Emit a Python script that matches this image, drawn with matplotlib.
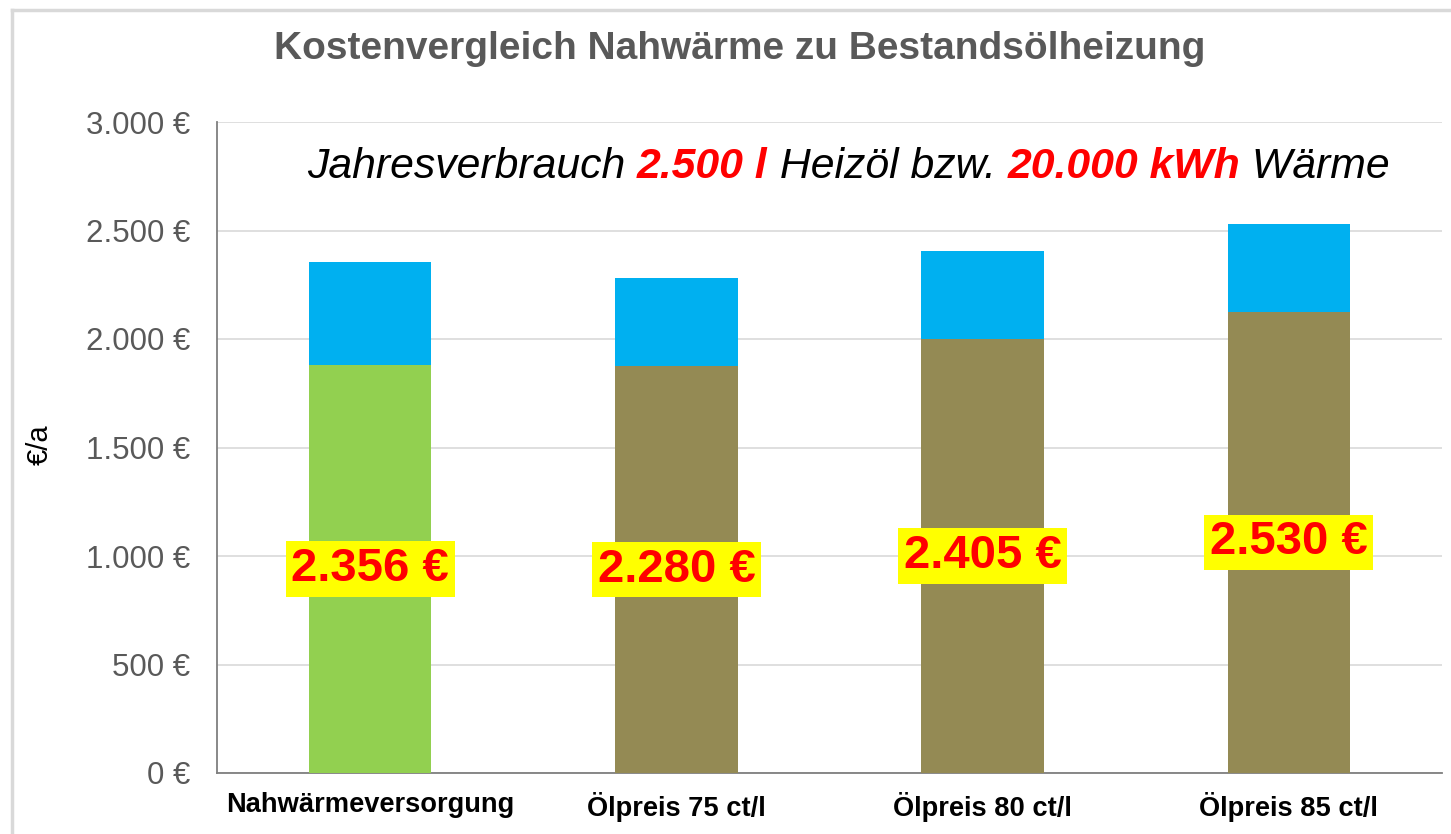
import matplotlib
matplotlib.use("Agg")
import matplotlib.pyplot as plt
from matplotlib.lines import Line2D

# daten
kategorien = ["Nahwärmeversorgung", "Ölpreis 75 ct/l", "Ölpreis 80 ct/l", "Ölpreis 85 ct/l"]
grundkosten = [1880, 1875, 2000, 2125]
zusatzkosten = [476, 405, 405, 405]
gesamt_labels = ["2.356 €", "2.280 €", "2.405 €", "2.530 €"]
y_ticks = [0, 500, 1000, 1500, 2000, 2500, 3000]
y_ticklabels = ["0 €", "500 €", "1.000 €", "1.500 €", "2.000 €", "2.500 €", "3.000 €"]

gruen = "#92D050"
oliv = "#948A54"
blau = "#00B0F0"
grau = "#595959"

plt.rcParams["font.family"] = ["Liberation Sans", "DejaVu Sans"]

fig = plt.figure(figsize=(14.51, 8.34), dpi=100)
ax = fig.add_axes([217 / 1451, 1 - 773 / 834, (1442 - 217) / 1451, (773 - 122) / 834])

x = list(range(len(kategorien)))
farben_unten = [gruen, oliv, oliv, oliv]
ax.bar(x, grundkosten, width=0.4, color=farben_unten, zorder=3)
ax.bar(x, zusatzkosten, width=0.4, bottom=grundkosten, color=blau, zorder=3)

# beschriftung mitten im unteren segment
for i in x:
    ax.text(i, grundkosten[i] / 2, gesamt_labels[i], ha="center", va="center",
            fontsize=34, fontweight="bold", color="#FF0000", zorder=5,
            bbox=dict(boxstyle="square,pad=0.12", facecolor="#FFFF00", edgecolor="none"))

ax.set_xlim(-0.5, 3.5)
ax.set_ylim(0, 3000)
ax.set_yticks(y_ticks)
ax.set_yticklabels(y_ticklabels, fontsize=22.5, color=grau)
ax.set_xticks(x)
ax.set_xticklabels(kategorien, fontsize=19.6, fontweight="bold", color="black")
ax.tick_params(axis="y", length=0, pad=19.5)
ax.tick_params(axis="x", length=0, pad=14)
ax.grid(axis="y", color="#D9D9D9", linewidth=1.2, zorder=0)
ax.spines["top"].set_visible(False)
ax.spines["right"].set_visible(False)
ax.spines["left"].set_color("#7F7F7F")
ax.spines["bottom"].set_color("#7F7F7F")
ax.spines["left"].set_linewidth(1.3)
ax.spines["bottom"].set_linewidth(1.3)

fig.text(40 / 1451, 1 - 445 / 834, "€/a", rotation=90, ha="center", va="center",
         fontsize=21, color="black")

fig.text(740 / 1451, 1 - 49 / 834, "Kostenvergleich Nahwärme zu Bestandsölheizung",
         ha="center", va="center", fontsize=28, fontweight="bold", color=grau)

# zeile mit gemischten farben
teile = [("Jahresverbrauch ", "black", "normal"),
         ("2.500 l", "#FF0000", "bold"),
         (" Heizöl bzw. ", "black", "normal"),
         ("20.000 kWh", "#FF0000", "bold"),
         (" Wärme", "black", "normal")]
t = fig.text(307 / 1451, 1 - 178 / 834, teile[0][0], color=teile[0][1], fontweight=teile[0][2],
             fontsize=30.8, fontstyle="italic", ha="left", va="baseline")
for s, c, w in teile[1:]:
    t = ax.annotate(s, xycoords=t, xy=(1, 0), va="bottom", ha="left", color=c,
                    fontweight=w, fontsize=30.8, fontstyle="italic", annotation_clip=False)

# rahmen
fig.add_artist(Line2D([12 / 1451, 12 / 1451], [0, 1 - 10 / 834], color="#D9D9D9", linewidth=2.5,
                      transform=fig.transFigure))
fig.add_artist(Line2D([12 / 1451, 1], [1 - 10 / 834, 1 - 10 / 834], color="#D9D9D9", linewidth=2.5,
                      transform=fig.transFigure))

plt.savefig("out.png", dpi=100)
